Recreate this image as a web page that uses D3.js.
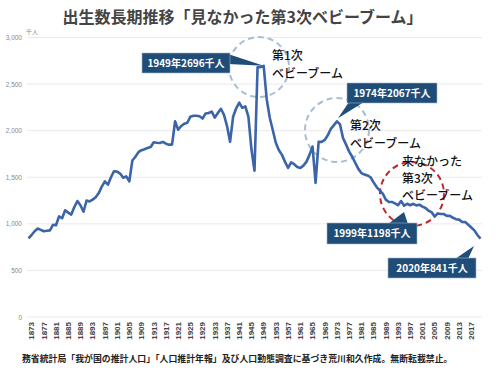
<!DOCTYPE html>
<html><head><meta charset="utf-8">
<script src="https://cdn.jsdelivr.net/npm/d3@7"></script>
<style>
html,body{margin:0;padding:0;background:#fff;}
svg{display:block;font-family:"Noto Sans CJK JP","Noto Sans",sans-serif;}
</style></head><body>
<svg id="chart" width="500" height="372"></svg>
<script>
const startYear = 1872;
const births = [
 845,880,920,950,935,920,925,930,990,985,
 1080,1060,1145,1120,1100,1180,1245,1200,1130,1250,
 1240,1260,1285,1330,1400,1455,1420,1500,1565,1560,
 1540,1495,1510,1455,1680,1720,1770,1790,1800,1815,
 1825,1875,1870,1868,1880,1860,1850,1850,2100,2010,
 2050,2075,2085,2150,2160,2160,2155,2130,2185,2190,
 2205,2140,2190,2235,2170,2050,1880,2150,2240,2300,
 2245,2260,2150,1800,1570,2680,2682,2696,2338,2138,
 2005,1868,1790,1740,1665,1600,1660,1640,1610,1600,
 1625,1665,1740,1830,1440,1880,1880,1900,1950,2020,
 2060,2100,2067,1920,1850,1775,1720,1655,1590,1545,
 1530,1520,1500,1445,1395,1360,1325,1260,1235,1235,
 1220,1200,1245,1195,1215,1200,1215,1198,1205,1185,
 1170,1140,1125,1080,1110,1105,1105,1085,1085,1065,
 1050,1045,1020,1020,990,960,930,880,841
];
const years = births.map((d,i)=>startYear+i);
const yTicks = [0,500,1000,1500,2000,2500,3000];
const xTickYears = d3.range(1873, 2018, 4);
const titleText = "出生数長期推移「見なかった第3次ベビーブーム」";
const unitText = "千人";
const footerText = "務省統計局「我が国の推計人口」「人口推計年報」及び人口動態調査に基づき荒川和久作成。無断転載禁止。";
const calloutLabels = ["1949年2696千人","1974年2067千人","1999年1198千人","2020年841千人"];
const boomTexts = [
  ["第1次","ベビーブーム"],
  ["第2次","ベビーブーム"],
  ["来なかった","第3次","ベビーブーム"]
];

const svg = d3.select("#chart");
const x = d3.scaleBand().domain(years).range([27,482]).paddingInner(0).paddingOuter(0);
const y = d3.scaleLinear().domain([0,3000]).range([317,37.5]);
const cx = yr => x(yr) + x.bandwidth()/2;

// title
svg.append("text").attr("x",242.5).attr("y",23).attr("text-anchor","middle")
  .attr("font-size",16).attr("font-weight",700).attr("fill","#444").text(titleText);

// gridlines
svg.append("g").selectAll("line").data(yTicks).join("line")
  .attr("x1",27).attr("x2",482).attr("y1",d=>y(d)).attr("y2",d=>y(d))
  .attr("stroke","#e4e4e4").attr("stroke-width",0.8);

// y axis labels
const yAxis = d3.axisLeft(y).tickValues(yTicks).tickFormat(d3.format(",")).tickSize(0).tickPadding(0);
const yg = svg.append("g").attr("transform","translate(22,0)").call(yAxis);
yg.select(".domain").remove();
yg.selectAll("text").attr("font-size",6.5).attr("fill","#888").attr("font-family","'Liberation Sans',sans-serif");

svg.append("text").attr("x",26).attr("y",34).attr("font-size",6).attr("fill","#888").text(unitText);

// x axis labels
const xAxis = d3.axisBottom(x).tickValues(xTickYears).tickSize(0).tickPadding(0);
const xg = svg.append("g").attr("transform","translate(0,322)").call(xAxis);
xg.select(".domain").remove();
xg.selectAll("text").attr("transform","rotate(-90)").attr("text-anchor","end")
  .attr("dy","0.35em").attr("x",0).attr("y",0)
  .attr("font-size",8).attr("font-weight",700).attr("fill","#444")
  .attr("font-family","'Liberation Sans Narrow','Liberation Sans',sans-serif");

// dashed circles
svg.append("circle").attr("cx",259).attr("cy",67).attr("r",30)
  .attr("fill","none").attr("stroke","#a9bdd3").attr("stroke-width",2).attr("stroke-dasharray","6,4");
svg.append("circle").attr("cx",337).attr("cy",130).attr("r",32)
  .attr("fill","none").attr("stroke","#a9bdd3").attr("stroke-width",2).attr("stroke-dasharray","6,4");
svg.append("circle").attr("cx",412).attr("cy",194).attr("r",32)
  .attr("fill","none").attr("stroke","#c0282d").attr("stroke-width",2).attr("stroke-dasharray","6,4");

// line
const line = d3.line().x((d,i)=>cx(years[i])).y(d=>y(d));
svg.append("path").datum(births).attr("d",line).attr("fill","none")
  .attr("stroke","#3c64a8").attr("stroke-width",2.6).attr("stroke-linejoin","round");

// callouts
const boxColor = "#1f4d78";
function callout(box, tail, label){
  const g = svg.append("g");
  g.append("path").attr("d","M"+tail.map(p=>p.join(",")).join("L")+"Z").attr("fill",boxColor);
  g.append("rect").attr("x",box[0]).attr("y",box[1]).attr("width",box[2]).attr("height",box[3])
    .attr("fill",boxColor).attr("stroke","#9fb4cc").attr("stroke-width",0.6);
  g.append("text").attr("x",box[0]+box[2]/2).attr("y",box[1]+box[3]/2).attr("dy","0.36em")
    .attr("text-anchor","middle").attr("fill","#fff").attr("font-size",10).attr("font-weight",700).text(label);
}
callout([142,53,88,20], [[228,54],[cx(1949),y(2696)],[228,64]], calloutLabels[0]);
callout([347,83,90,20], [[349,102],[cx(1973)+1,y(2100)-3],[364,102]], calloutLabels[1]);
callout([327,223,90,21], [[388,224],[404,212],[408,224]], calloutLabels[2]);
callout([388,258,88,20], [[455,259],[474,246],[468,259]], calloutLabels[3]);

// boom texts (one text element per line)
function multi(xp, yp, lines, lh){
  lines.forEach((l,i)=>svg.append("text").attr("x",xp).attr("y",yp+i*lh)
    .attr("font-size",12).attr("font-weight",500).attr("fill","#111").text(l));
}
multi(272,60,boomTexts[0],17.5);
multi(350,130,boomTexts[1],17.5);
multi(402,166,boomTexts[2],17);

// footer
svg.append("text").attr("x",22).attr("y",362).attr("font-size",8.9).attr("font-weight",700).attr("fill","#222").text(footerText);
</script>
</body></html>
